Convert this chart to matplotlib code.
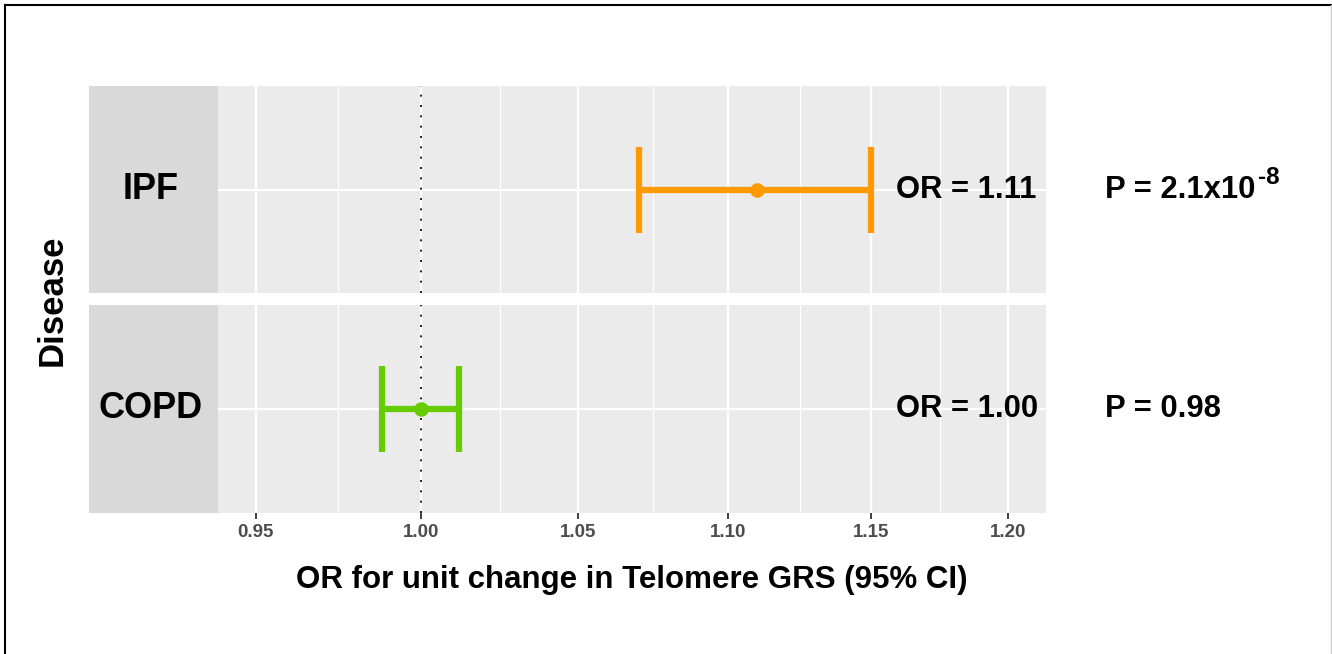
import numpy as np
import matplotlib.pyplot as plt
from matplotlib.lines import Line2D
from matplotlib.ticker import FixedLocator, NullFormatter

plt.rcParams['font.family'] = ['Liberation Sans', 'DejaVu Sans']

# data
diseases = ['IPF', 'COPD']
or_est = [1.11, 1.00]
ci_low = [1.07, 0.988]
ci_high = [1.15, 1.012]
or_labels = ['OR = 1.11', 'OR = 1.00']
p_labels = ['P = 2.1x10', 'P = 0.98']
p_sup = ['-8', '']
colors = ['#FF9900', '#66CC00']
xticks = [0.95, 1.00, 1.05, 1.10, 1.15, 1.20]

W, H = 1332, 654
fig = plt.figure(figsize=(W / 100, H / 100), dpi=100)

# panel / strip geometry (pixels)
px_left, px_right = 218, 1046
strip_left = 89
rows = [(86, 293), (305, 513)]

lo, hi = np.log(xticks[0]), np.log(xticks[-1])
pad = 0.05 * (hi - lo)
xlim = (np.exp(lo - pad), np.exp(hi + pad))
logt = np.log(xticks)
minor = np.exp((logt[:-1] + logt[1:]) / 2)

for i, (top, bot) in enumerate(rows):
    ax = fig.add_axes([px_left / W, 1 - bot / H, (px_right - px_left) / W, (bot - top) / H])
    ax.set_facecolor('#EBEBEB')
    for s in ax.spines.values():
        s.set_visible(False)
    ax.set_xscale('log')
    ax.set_xlim(*xlim)
    ax.set_ylim(-1, 1)
    ax.xaxis.set_major_locator(FixedLocator(xticks))
    ax.xaxis.set_minor_locator(FixedLocator(minor))
    ax.xaxis.set_minor_formatter(NullFormatter())
    ax.grid(which='major', axis='x', color='white', lw=1.6)
    ax.grid(which='minor', axis='x', color='white', lw=0.8)
    ax.axhline(0, color='white', lw=1.6, zorder=0.5)
    ax.set_axisbelow(True)
    ax.set_yticks([])

    ax.axvline(1.0, color='black', lw=1.2, ls=(0, (1.2, 5)), zorder=2)
    ax.errorbar([or_est[i]], [0], xerr=[[or_est[i] - ci_low[i]], [ci_high[i] - or_est[i]]],
                fmt='none', ecolor=colors[i], elinewidth=4.5,
                capsize=31, capthick=4.5, zorder=3)
    ax.plot([or_est[i]], [0], 'o', color=colors[i], ms=10.5, mew=0, zorder=4)

    ax.text(0.8188, 0.5, or_labels[i], transform=ax.transAxes, ha='left', va='center',
            fontsize=22.3, fontweight='bold', clip_on=False)
    pt = ax.text(1.0715, 0.5, p_labels[i], transform=ax.transAxes, ha='left', va='center',
                 fontsize=22.3, fontweight='bold', clip_on=False)
    if p_sup[i]:
        ax.annotate(p_sup[i], xy=(1, 1), xycoords=pt, xytext=(1.5, -2),
                    textcoords='offset points', ha='left', va='center',
                    fontsize=17.5, fontweight='bold', annotation_clip=False)

    if i == 1:
        ax.tick_params(axis='x', which='major', length=4, width=1.3, color='#333333',
                       labelcolor='#4D4D4D', labelsize=13.5, pad=4)
        ax.tick_params(axis='x', which='minor', length=0)
        ax.set_xticklabels([f'{t:.2f}' for t in xticks], fontweight='bold')
    else:
        ax.tick_params(axis='x', which='both', length=0, labelbottom=False)

    # strip on the left
    sax = fig.add_axes([strip_left / W, 1 - bot / H, (px_left - strip_left) / W, (bot - top) / H])
    sax.set_facecolor('#D9D9D9')
    for s in sax.spines.values():
        s.set_visible(False)
    sax.set_xticks([])
    sax.set_yticks([])
    sax.text(0.48, 0.5, diseases[i], transform=sax.transAxes, ha='center', va='center',
             fontsize=26, fontweight='bold')

fig.text(632 / W, 1 - 580 / H, 'OR for unit change in Telomere GRS (95% CI)',
         ha='center', va='center', fontsize=22.5, fontweight='bold')
fig.text(52 / W, 1 - 300 / H, 'Disease', ha='center', va='center', rotation=90,
         fontsize=25, fontweight='bold')

# outer frame
fig.add_artist(Line2D([5 / W, 5 / W], [0, 1 - 5 / H], color='black', lw=1.5))
fig.add_artist(Line2D([5 / W, 1], [1 - 5 / H, 1 - 5 / H], color='black', lw=1.5))
fig.add_artist(Line2D([1331 / W, 1331 / W], [0, 1 - 5 / H], color='#CCCCCC', lw=1))

fig.savefig('out.png', dpi=100)
